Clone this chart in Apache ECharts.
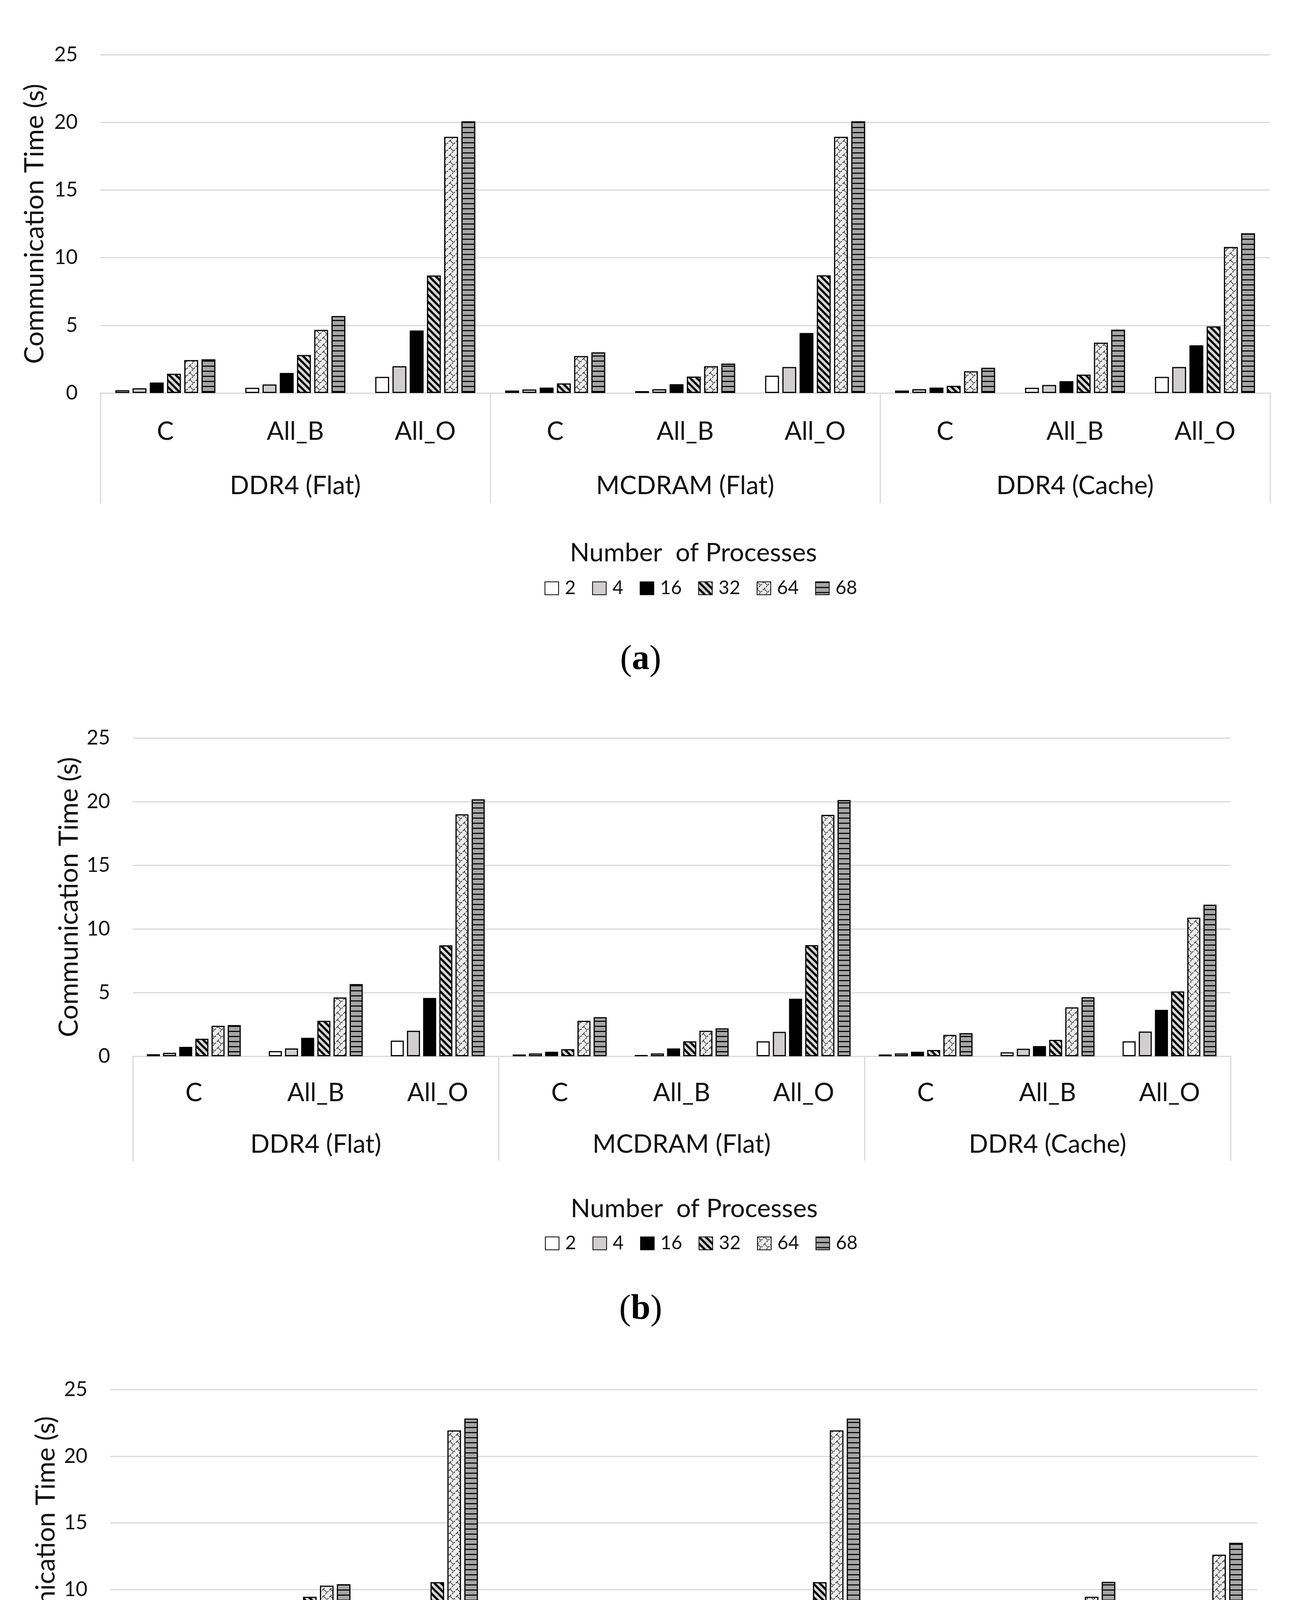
<!DOCTYPE html>
<html><head><meta charset="utf-8">
<script src="https://cdn.jsdelivr.net/npm/echarts@6/dist/echarts.min.js"></script>
<style>html,body{margin:0;padding:0;background:#fff}#c{width:3333px;height:5186px}</style>
</head><body><div id="c"></div>
<script>
// ---------- DATA ----------
const processCounts = ['2', '4', '16', '32', '64', '68'];
const methods = ['C', 'All_B', 'All_O'];
const memoryModes = ['DDR4 (Flat)', 'MCDRAM (Flat)', 'DDR4 (Cache)'];
const yTickMax = 25, yTickStep = 5;
const yTitle = 'Communication Time (s)';
const legendTitle = 'Number  of Processes';
const panelLetters = ['a', 'b', 'c'];

// values ordered: DDR4(Flat) C, All_B, All_O | MCDRAM(Flat) C, All_B, All_O | DDR4(Cache) C, All_B, All_O
const panelA_2  = [0.20, 0.38, 1.19, 0.18, 0.14, 1.28, 0.18, 0.38, 1.19];
const panelA_4  = [0.35, 0.63, 1.98, 0.26, 0.28, 1.92, 0.28, 0.59, 1.92];
const panelA_16 = [0.77, 1.48, 4.62, 0.40, 0.65, 4.43, 0.40, 0.87, 3.52];
const panelA_32 = [1.42, 2.81, 8.68, 0.71, 1.21, 8.70, 0.53, 1.36, 4.92];
const panelA_64 = [2.43, 4.66, 18.93, 2.73, 1.98, 18.93, 1.60, 3.72, 10.79];
const panelA_68 = [2.49, 5.69, 20.08, 3.00, 2.17, 20.08, 1.86, 4.68, 11.80];

const panelB_2  = [0.16, 0.41, 1.23, 0.14, 0.10, 1.17, 0.14, 0.31, 1.17];
const panelB_4  = [0.27, 0.61, 2.00, 0.22, 0.22, 1.92, 0.22, 0.59, 1.94];
const panelB_16 = [0.74, 1.45, 4.58, 0.35, 0.61, 4.52, 0.35, 0.80, 3.64];
const panelB_32 = [1.37, 2.78, 8.71, 0.55, 1.17, 8.73, 0.49, 1.29, 5.09];
const panelB_64 = [2.39, 4.62, 19.00, 2.78, 2.00, 18.96, 1.68, 3.84, 10.88];
const panelB_68 = [2.45, 5.67, 20.18, 3.07, 2.19, 20.12, 1.82, 4.64, 11.90];

const panelC_2  = [0.52, 1.18, 1.55, 0.52, 0.45, 1.50, 0.52, 1.03, 1.55];
const panelC_4  = [2.52, 4.97, 2.45, 2.52, 2.52, 2.39, 2.58, 5.14, 2.41];
const panelC_16 = [4.13, 7.79, 6.26, 4.32, 3.94, 6.26, 4.54, 7.79, 5.38];
const panelC_32 = [4.58, 9.46, 10.56, 4.11, 4.45, 10.56, 4.26, 9.20, 6.92];
const panelC_64 = [4.95, 10.30, 21.93, 5.68, 4.77, 21.93, 4.58, 9.46, 12.62];
const panelC_68 = [5.14, 10.41, 22.82, 5.89, 4.77, 22.82, 4.77, 10.58, 13.51];

const panels = [
  [panelA_2, panelA_4, panelA_16, panelA_32, panelA_64, panelA_68],
  [panelB_2, panelB_4, panelB_16, panelB_32, panelB_64, panelB_68],
  [panelC_2, panelC_4, panelC_16, panelC_32, panelC_64, panelC_68]
];

// ---------- STYLE / LAYOUT ----------
const FONT = 'Lato, "Open Sans", sans-serif';
const SERIF = '"Liberation Serif", "DejaVu Serif", serif';
const TXT = '#111111';
const GRID = '#d9d9d9';
const layout = [
  {left:257, right:82, top:140, bottom:1006, catMargin:67, grpMargin:206, tick:282, nameGap:134,
   legTitleY:1416, legX:1775, legTop:1477, legLeft:1389, capY:1690},
  {left:340, right:183, top:1889, bottom:2704, catMargin:62, grpMargin:194, tick:268, nameGap:122,
   legTitleY:3095, legX:1777, legTop:3154, legLeft:1390, capY:3353},
  {left:282, right:114, top:3557, bottom:4411, catMargin:66, grpMargin:205, tick:281, nameGap:130,
   legTitleY:4808, legX:1773, legTop:4873, legLeft:1365, capY:5089}
];

function tile(w, h, draw) {
  const c = document.createElement('canvas');
  c.width = w; c.height = h;
  const g = c.getContext('2d');
  draw(g, w, h);
  return {image: c, repeat: 'repeat'};
}
const fills = [
  '#ffffff',
  '#d0cece',
  '#000000',
  tile(17, 17, (g, w, h) => {
    g.fillStyle = '#d9d9d9'; g.fillRect(0, 0, w, h);
    g.strokeStyle = '#000'; g.lineWidth = 5.5; g.lineCap = 'square';
    for (let k = -1; k <= 1; k++) { g.beginPath(); g.moveTo(k * w, 0); g.lineTo(k * w + w, h); g.stroke(); }
  }),
  tile(18, 18, (g, w, h) => {
    g.fillStyle = '#ececec'; g.fillRect(0, 0, w, h);
    g.strokeStyle = '#111'; g.lineWidth = 1.8;
    g.setLineDash([4, 3]);
    for (let k = -1; k <= 1; k++) { g.beginPath(); g.moveTo(k * w, h); g.lineTo(k * w + w, 0); g.stroke(); }
    g.setLineDash([]);
    g.lineWidth = 1.3;
    g.beginPath(); g.moveTo(0, 0); g.lineTo(w / 2, h / 2); g.stroke();
  }),
  tile(4, 13, (g, w, h) => {
    g.fillStyle = '#a6a6a6'; g.fillRect(0, 0, w, h);
    g.fillStyle = '#000'; g.fillRect(0, 0, w, 2.8);
  })
];

const cats9 = [];
memoryModes.forEach(() => methods.forEach(m => cats9.push(m)));

const grids = [], xAxes = [], yAxes = [], series = [], legends = [], graphics = [];
layout.forEach((L, p) => {
  grids.push({left: L.left, right: L.right, top: L.top, height: L.bottom - L.top, containLabel: false});
  xAxes.push({
    gridIndex: p, type: 'category', data: cats9, position: 'bottom',
    axisLine: {show: true, lineStyle: {color: GRID, width: 3}},
    axisTick: {show: false},
    axisLabel: {margin: L.catMargin, fontSize: 65, color: TXT, fontFamily: FONT, interval: 0}
  });
  xAxes.push({
    gridIndex: p, type: 'category', data: memoryModes, position: 'bottom',
    axisLine: {show: false},
    axisTick: {show: true, length: L.tick, lineStyle: {color: GRID, width: 3}},
    axisLabel: {margin: L.grpMargin, fontSize: 65, color: TXT, fontFamily: FONT, interval: 0}
  });
  yAxes.push({
    gridIndex: p, type: 'value', min: 0, max: yTickMax, interval: yTickStep,
    axisLine: {show: false}, axisTick: {show: false},
    splitLine: {lineStyle: {color: GRID, width: 3}},
    axisLabel: {fontSize: 52, color: TXT, fontFamily: FONT, margin: 58},
    name: yTitle, nameLocation: 'middle', nameGap: L.nameGap,
    nameTextStyle: {fontSize: 68, color: TXT, fontFamily: FONT}
  });
  processCounts.forEach((name, i) => {
    series.push({
      type: 'bar', name: name, xAxisIndex: p * 2, yAxisIndex: p,
      data: panels[p][i],
      barGap: '24%', barCategoryGap: '23%',
      itemStyle: {color: fills[i], borderColor: '#000', borderWidth: 3},
      emphasis: {disabled: true}
    });
  });
  legends.push({
    data: processCounts, left: L.legLeft, top: L.legTop, orient: 'horizontal',
    icon: 'rect', itemWidth: 35, itemHeight: 33, itemGap: 42,
    textStyle: {fontSize: 48, color: TXT, fontFamily: FONT, padding: [0, 0, 0, 11]},
    selectedMode: false
  });
  graphics.push({
    type: 'text', x: L.legX, y: L.legTitleY,
    style: {text: legendTitle, fontSize: 66, fill: TXT, fontFamily: FONT, align: 'center', verticalAlign: 'middle'}
  });
  graphics.push({
    type: 'text', x: 1640, y: L.capY,
    style: {
      text: '{p|(}{b|' + panelLetters[p] + '}{p|)}', align: 'center', verticalAlign: 'middle',
      rich: {
        p: {fontSize: 90, fontFamily: SERIF, fill: '#000'},
        b: {fontSize: 90, fontWeight: 'bold', fontFamily: SERIF, fill: '#000'}
      }
    }
  });
});

const chart = echarts.init(document.getElementById('c'), null, {renderer: 'canvas'});
chart.setOption({
  backgroundColor: '#ffffff',
  animation: false,
  grid: grids, xAxis: xAxes, yAxis: yAxes, series: series,
  legend: legends, graphic: graphics
});
</script></body></html>
